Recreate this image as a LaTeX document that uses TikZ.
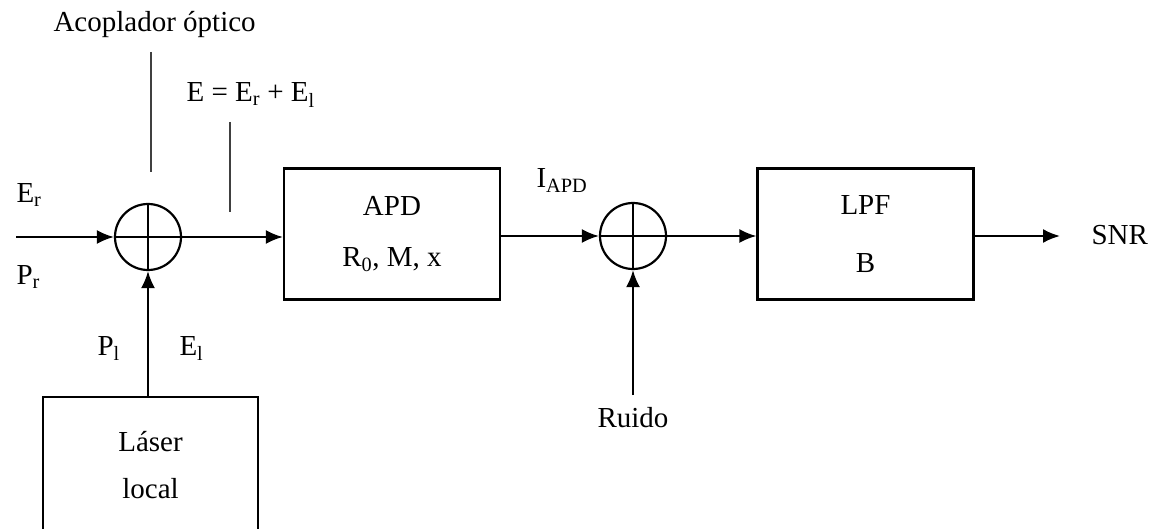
\documentclass[tikz,border=0pt]{standalone}
\usepackage{fontspec}
\setmainfont{Liberation Serif}
\usetikzlibrary{arrows.meta}
\begin{document}
\begin{tikzpicture}
   [x=1pt, y=-1pt, font=\fontsize{29}{31}\selectfont,
    block/.style={draw, line width=2.2pt, minimum width=216pt, minimum height=131pt, align=center, inner sep=0pt},
    sum node/.style={circle, draw, line width=2.2pt, minimum size=66pt, inner sep=0pt},
    flow/.style={line width=2.2pt, -{Latex[length=17pt,width=14pt]}},
    pointer/.style={line width=1.2pt, black!75}]
   \useasboundingbox (0,0) rectangle (1151,529);

   \node[sum node] (s1) at (148,237) {};
   \node[sum node] (s2) at (633,236) {};
   \draw[line width=2.2pt] (s1.north) -- (s1.south) (s1.west) -- (s1.east);
   \draw[line width=2.2pt] (s2.north) -- (s2.south) (s2.west) -- (s2.east);

   \node[block] (apd) at (392,234) {APD\\[20pt]R\textsubscript{0}, M, x};
   \node[block] (lpf) at (865.5,234) {LPF\\[27pt]B};
   \node[block, minimum width=215pt, minimum height=136pt] (laser) at (150.5,465) {L\'aser\\[16pt]local};

   \node[anchor=base west] (acop) at (50,32) {Acoplador \'optico};
   \node[anchor=base west] (etot) at (183,102) {E = E\textsubscript{r} + E\textsubscript{l}};
   \node[anchor=base west] (er) at (13,203) {E\textsubscript{r}};
   \node[anchor=base west] (pr) at (13,285) {P\textsubscript{r}};
   \node[anchor=base west] (pl) at (94,355) {P\textsubscript{l}};
   \node[anchor=base west] (el) at (176,355) {E\textsubscript{l}};
   \node[anchor=base west] (iapd) at (533,188) {I\textsubscript{APD}};
   \node[anchor=base] (ruido) at (633,427) {Ruido};
   \node[anchor=base west] (snr) at (1088,245) {SNR};

   \coordinate (p1a) at (151,52);
   \coordinate (p1b) at (151,172);
   \coordinate (p2a) at (230,122);
   \coordinate (p2b) at (230,212);
   \draw[pointer] (p1a) -- (p1b);
   \draw[pointer] (p2a) -- (p2b);

   \coordinate (in) at (16,237);
   \coordinate (noise) at (633,395);
   \coordinate (out) at (1060,236);

   \draw[flow] (in) -- (s1.west);
   \draw[flow] (s1.east) -- (s1.east -| apd.west);
   \draw[flow] (s1 |- laser.north) -- (s1.south);
   \draw[flow] (apd.east |- s2) -- (s2.west);
   \draw[flow] (noise) -- (s2.south);
   \draw[flow] (s2.east) -- (s2.east -| lpf.west);
   \draw[flow] (lpf.east |- out) -- (out);
\end{tikzpicture}
\end{document}
